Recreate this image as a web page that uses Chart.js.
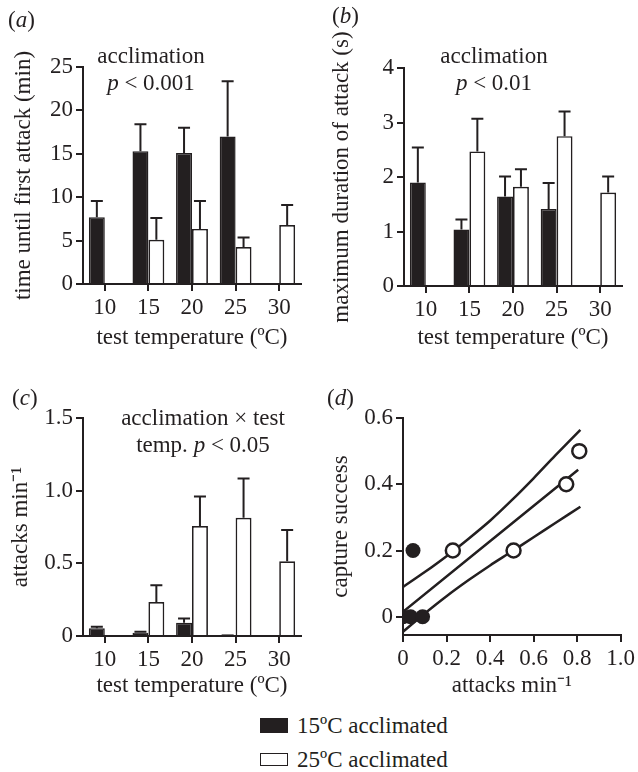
<!DOCTYPE html>
<html>
<head>
<meta charset="utf-8">
<script src="https://cdn.jsdelivr.net/npm/chart.js@4.4.1/dist/chart.umd.min.js"></script>
<style>
  body { margin: 0; background: #fff; }
  #fig { position: relative; width: 638px; height: 772px; font-family: 'Liberation Serif', serif; font-size: 23px; color: #231f20; }
  #fig canvas { position: absolute; }
  .txt { position: absolute; line-height: 27px; white-space: nowrap; }
  .note { width: 220px; text-align: center; }
  .sw { position: absolute; left: 260px; width: 28px; box-sizing: border-box; border: 1.5px solid #231f20; }
</style>
</head>
<body>
<div id="fig">
  <canvas id="g_a" width="319" height="360" style="left:0;top:0"></canvas>
  <canvas id="g_b" width="318" height="360" style="left:320px;top:0"></canvas>
  <canvas id="g_c" width="319" height="340" style="left:0;top:360px"></canvas>
  <canvas id="g_d" width="318" height="340" style="left:320px;top:360px"></canvas>

  <div class="txt" style="left:8px;top:6px">(<i>a</i>)</div>
  <div class="txt" style="left:332px;top:2px">(<i>b</i>)</div>
  <div class="txt" style="left:12px;top:384px">(<i>c</i>)</div>
  <div class="txt" style="left:327px;top:384px">(<i>d</i>)</div>

  <div class="txt note" style="left:41px;top:42px">acclimation<br><i>p</i> &lt; 0.001</div>
  <div class="txt note" style="left:384px;top:42px">acclimation<br><i>p</i> &lt; 0.01</div>
  <div class="txt note" style="left:93px;top:404px">acclimation × test<br>temp. <i>p</i> &lt; 0.05</div>

  <div class="sw" style="top:718px;height:15px;background:#231f20"></div>
  <div class="txt" style="left:297px;top:712px">15ºC acclimated</div>
  <div class="sw" style="top:753px;height:13px;background:#fff"></div>
  <div class="txt" style="left:297px;top:746px">25ºC acclimated</div>
</div>

<script>
// test temperatures (ºC)
var temps = ['10', '15', '20', '25', '30'];

// (a) time until first attack (min), mean and upper error
var firstAttack15 = [7.7, 15.3, 15.1, 17.0, null];
var firstAttack15Err = [1.85, 3.1, 2.9, 6.35, null];
var firstAttack25 = [null, 5.1, 6.35, 4.25, 6.8];
var firstAttack25Err = [null, 2.5, 3.2, 1.1, 2.3];

// (b) maximum duration of attack (s)
var duration15 = [1.9, 1.035, 1.64, 1.415, null];
var duration15Err = [0.64, 0.185, 0.37, 0.475, null];
var duration25 = [null, 2.47, 1.82, 2.75, 1.715];
var duration25Err = [null, 0.6, 0.32, 0.45, 0.295];

// (c) attacks min-1
var rate15 = [0.053, 0.023, 0.092, 0.004, null];
var rate15Err = [0.011, 0.007, 0.028, 0, null];
var rate25 = [null, 0.234, 0.757, 0.814, 0.514];
var rate25Err = [null, 0.116, 0.203, 0.269, 0.216];

// (d) capture success against attacks min-1
var success15X = [0.0, 0.035, 0.09, 0.046];
var success15Y = [0, 0, 0, 0.2];
var success25X = [0.229, 0.508, 0.75, 0.81];
var success25Y = [0.2, 0.2, 0.4, 0.5];
var fitX = [0.0, 0.805];
var fitY = [0.015, 0.444];
var bandX = [0.0, 0.1, 0.2, 0.3, 0.4, 0.5, 0.6, 0.7, 0.815];
var bandUpper = [0.09, 0.135, 0.183, 0.235, 0.29, 0.352, 0.418, 0.487, 0.564];
var bandLower = [-0.045, 0.01, 0.062, 0.11, 0.155, 0.197, 0.24, 0.283, 0.332];
var ticksDX = [0, 0.2, 0.4, 0.6, 0.8, 1.0];
var ticksDY = [0, 0.2, 0.4, 0.6];

var ink = '#231f20';
Chart.defaults.font.family = "'Liberation Serif', serif";
Chart.defaults.font.size = 23;
Chart.defaults.color = ink;

// upward error bars with a cap
var errorBars = {
    id: 'errorBars',
    afterDatasetsDraw: function (chart) {
        var ctx = chart.ctx;
        var yScale = chart.scales.y;
        chart.data.datasets.forEach(function (ds, i) {
            if (!ds.sem) return;
            var meta = chart.getDatasetMeta(i);
            meta.data.forEach(function (bar, j) {
                var v = ds.data[j], e = ds.sem[j];
                if (v == null || e == null) return;
                var top = yScale.getPixelForValue(v + e);
                ctx.save();
                ctx.strokeStyle = ink;
                ctx.lineWidth = 2;
                ctx.beginPath();
                ctx.moveTo(bar.x, bar.y);
                ctx.lineTo(bar.x, top);
                ctx.moveTo(bar.x - 6, top);
                ctx.lineTo(bar.x + 6, top);
                ctx.stroke();
                ctx.restore();
            });
        });
    }
};

function axis(opts) {
    var cfg = {
        type: opts.type || 'linear',
        min: opts.min,
        max: opts.max,
        offset: opts.offset || false,
        border: { display: true, color: ink, width: 2 },
        grid: { display: true, drawOnChartArea: false, drawTicks: true, tickLength: 7, color: ink, lineWidth: 2, offset: false },
        ticks: { padding: 3, autoSkip: false, maxRotation: 0 },
        title: { display: true, text: opts.title, padding: opts.titlePad },
        afterFit: opts.fit
    };
    if (opts.step) cfg.ticks.stepSize = opts.step;
    if (opts.format) cfg.ticks.callback = opts.format;
    if (opts.tickValues) {
        cfg.afterBuildTicks = function (scale) {
            scale.ticks = opts.tickValues.map(function (v) { return { value: v }; });
        };
    }
    return cfg;
}

function barChart(id, d15, e15, d25, e25, yMax, step, yTitle, pad, yWidth, xHeight, titlePad, format) {
    var ctx = document.getElementById(id).getContext('2d');
    return new Chart(ctx, {
        type: 'bar',
        data: {
            labels: temps,
            datasets: [{
                data: d15,
                sem: e15,
                backgroundColor: ink,
                borderColor: ink,
                borderWidth: 1.5
            }, {
                data: d25,
                sem: e25,
                backgroundColor: '#ffffff',
                borderColor: ink,
                borderWidth: 1.7
            }]
        },
        options: {
            responsive: false,
            animation: false,
            devicePixelRatio: 1,
            layout: { padding: pad },
            categoryPercentage: 0.73,
            barPercentage: 1.0,
            plugins: { legend: { display: false }, tooltip: { enabled: false } },
            scales: {
                x: axis({
                    type: 'category', offset: true,
                    title: 'test temperature (ºC)', titlePad: { top: 0, bottom: 0 },
                    fit: function (s) { s.height = xHeight; }
                }),
                y: axis({
                    min: 0, max: yMax, step: step, format: format,
                    title: yTitle, titlePad: { top: titlePad, bottom: 0 },
                    fit: function (s) { s.width = yWidth; }
                })
            }
        },
        plugins: [errorBars]
    });
}

function pairs(xs, ys) {
    var out = [];
    for (var i = 0; i < xs.length; i++) out.push({ x: xs[i], y: ys[i] });
    return out;
}

var decimal = function (v) { return v === 0 ? '0' : v.toFixed(1); };

function scatterChart() {
    var ctx = document.getElementById('g_d').getContext('2d');
    var line = { showLine: true, pointRadius: 0, borderColor: ink, borderWidth: 2.5, fill: false, tension: 0.3 };
    return new Chart(ctx, {
        type: 'scatter',
        data: {
            datasets: [
                { data: pairs(success25X, success25Y), pointRadius: 7, pointBackgroundColor: '#fff', pointBorderColor: ink, pointBorderWidth: 2.5 },
                { data: pairs(success15X, success15Y), pointRadius: 7.5, pointBackgroundColor: ink, pointBorderColor: ink, pointBorderWidth: 0 },
                Object.assign({ data: pairs(fitX, fitY) }, line),
                Object.assign({ data: pairs(bandX, bandUpper) }, line),
                Object.assign({ data: pairs(bandX, bandLower) }, line)
            ]
        },
        options: {
            responsive: false,
            animation: false,
            devicePixelRatio: 1,
            layout: { padding: { top: 58, right: 17, left: 0, bottom: 0 } },
            plugins: { legend: { display: false }, tooltip: { enabled: false } },
            scales: {
                x: axis({
                    min: 0, max: 1.0, tickValues: ticksDX, format: decimal,
                    title: 'attacks min⁻¹', titlePad: { top: 0, bottom: 0 },
                    fit: function (s) { s.height = 65; }
                }),
                y: axis({
                    min: -0.055, max: 0.6, tickValues: ticksDY, format: decimal,
                    title: 'capture success', titlePad: { top: 7, bottom: 0 },
                    fit: function (s) { s.width = 83; }
                })
            }
        }
    });
}

barChart('g_a', firstAttack15, firstAttack15Err, firstAttack25, firstAttack25Err, 25, 5,
    'time until first attack (min)', { top: 67, right: 18, left: 0, bottom: 8 }, 83, 68, 10);
barChart('g_b', duration15, duration15Err, duration25, duration25Err, 4, 1,
    'maximum duration of attack (s)', { top: 68, right: 16, left: 0, bottom: 8 }, 84, 66, 8);
barChart('g_c', rate15, rate15Err, rate25, rate25Err, 1.5, 0.5,
    'attacks min⁻¹', { top: 58, right: 18, left: 0, bottom: 0 }, 83, 64, 7, decimal);
scatterChart();
</script>
</body>
</html>
